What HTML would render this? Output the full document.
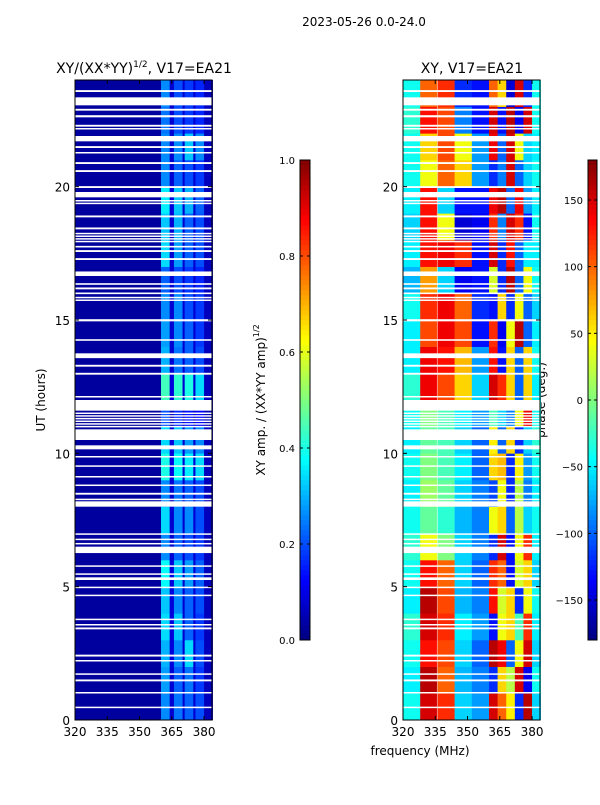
<!DOCTYPE html>
<html><head><meta charset="utf-8"><style>
body{margin:0;background:#fff;}
svg text{font-family:"DejaVu Sans","Liberation Sans",sans-serif;fill:#000;}
</style></head><body>
<svg id="fig" width="600" height="800" xmlns="http://www.w3.org/2000/svg">
<rect width="600" height="800" fill="#fff"/>
<text x="364" y="26" font-size="12" text-anchor="middle">2023-05-26 0.0-24.0</text>
<text x="144" y="73" font-size="14" text-anchor="middle">XY/(XX*YY)<tspan font-size="9" dy="-6">1/2</tspan><tspan dy="6">, V17=EA21</tspan></text>
<text x="472" y="73" font-size="14" text-anchor="middle">XY, V17=EA21</text>
<text x="45" y="400" font-size="12" text-anchor="middle" transform="rotate(-90 45 400)">UT (hours)</text>
<text x="420" y="755" font-size="12" text-anchor="middle">frequency (MHz)</text>
<text x="265" y="400" font-size="12" text-anchor="middle" transform="rotate(-90 265 400)">XY amp. / (XX*YY amp)<tspan font-size="8" dy="-6">1/2</tspan></text>
<text x="545" y="400" font-size="12" text-anchor="middle" transform="rotate(-90 545 400)">phase (deg.)</text>
<g id="left"></g>
<g id="right"></g>
<g id="cbars"></g>
<g id="axes"></g>
</svg>
<script>
const hours = [0,1,2,3,4,5,6,7,8,9,10,11,12,13,14,15,16,17,18,19,20,21,22,23];
const ampFreqEdges = [320,360,364,366,370,371,375,376,380,384];
const ampRows = [
[0.03,0.26,0.08,0.24,0.08,0.22,0.08,0.20,0.06],
[0.03,0.28,0.08,0.22,0.08,0.24,0.08,0.18,0.06],
[0.03,0.30,0.09,0.26,0.08,0.34,0.08,0.20,0.06],
[0.03,0.34,0.09,0.32,0.08,0.22,0.08,0.18,0.06],
[0.03,0.32,0.09,0.26,0.08,0.22,0.08,0.20,0.06],
[0.03,0.38,0.09,0.32,0.08,0.28,0.08,0.22,0.06],
[0.03,0.26,0.08,0.22,0.08,0.20,0.08,0.18,0.06],
[0.03,0.34,0.08,0.26,0.08,0.26,0.08,0.20,0.06],
[0.03,0.26,0.08,0.24,0.08,0.22,0.08,0.20,0.06],
[0.03,0.40,0.09,0.38,0.08,0.36,0.08,0.34,0.06],
[0.03,0.34,0.09,0.32,0.08,0.28,0.08,0.26,0.06],
[0.03,0.20,0.06,0.16,0.06,0.14,0.06,0.12,0.05],
[0.03,0.44,0.09,0.42,0.08,0.40,0.08,0.34,0.06],
[0.03,0.30,0.08,0.24,0.08,0.22,0.08,0.20,0.06],
[0.03,0.28,0.08,0.26,0.08,0.22,0.08,0.18,0.06],
[0.03,0.26,0.08,0.26,0.08,0.20,0.08,0.18,0.06],
[0.03,0.22,0.08,0.20,0.08,0.18,0.08,0.16,0.06],
[0.03,0.34,0.08,0.28,0.08,0.22,0.08,0.20,0.06],
[0.03,0.32,0.08,0.30,0.08,0.22,0.08,0.20,0.06],
[0.03,0.36,0.09,0.32,0.08,0.30,0.08,0.22,0.06],
[0.03,0.26,0.08,0.22,0.08,0.20,0.08,0.18,0.06],
[0.03,0.26,0.08,0.26,0.08,0.32,0.08,0.26,0.06],
[0.03,0.24,0.08,0.20,0.08,0.18,0.08,0.16,0.06],
[0.03,0.26,0.08,0.20,0.08,0.18,0.08,0.16,0.06]
];
const phaseFreqEdges = [320,328,336,344,352,360,364,368,372,376,380,384];
const phaseRows = [
[-40,150,120,-60,-80,150,100,50,-120,160,-60],
[-50,160,100,-70,-90,-120,60,20,150,-140,-40],
[-40,130,110,-60,-100,160,140,-100,40,150,-60],
[-30,150,120,-50,-80,-130,40,60,-20,120,-50],
[-50,160,110,-70,-90,130,30,60,-120,40,-40],
[-40,130,100,-60,-100,120,100,-130,30,60,-60],
[-30,40,0,-60,-90,-120,150,-130,40,120,-50],
[-40,-10,-30,-70,-90,40,60,-100,20,-60,-40],
[-50,10,-10,-60,-90,-110,40,-120,20,-90,-50],
[-40,0,-20,-50,-100,60,70,-120,50,-80,-40],
[-50,-10,-20,-60,-100,50,-100,60,-120,-60,-30],
[-40,0,-20,-50,-80,-20,-60,-90,40,140,-40],
[-30,140,110,60,-60,150,120,60,-100,60,-50],
[-50,140,130,70,-80,130,-130,60,-100,60,-40],
[-50,110,140,110,-130,120,-140,40,160,-100,-50],
[-40,120,140,100,-120,-130,60,-120,40,-100,-60],
[-70,80,-60,-140,-130,30,-120,160,-100,40,-40],
[-50,130,140,120,-130,150,-120,130,-100,-50,-50],
[-60,130,40,-150,-140,120,-90,150,120,-130,-40],
[-50,130,-60,-130,-130,140,160,-100,140,-80,-50],
[-40,40,100,60,-80,-120,-90,150,-100,-60,-40],
[-40,60,110,40,-80,140,-100,150,40,-60,-50],
[-30,130,110,-90,-130,150,-130,160,-140,150,-40],
[-40,100,120,-120,-130,100,60,-150,150,-120,-40]
];
const gaps = [[23.55,23.62],[23.05,23.35],[22.85,22.92],[22.6,22.68],[22.25,22.32],[22.15,22.2],[21.7,21.9],[21.45,21.52],[21.25,21.3],[20.85,20.92],[20.55,20.62],[19.95,20.02],[19.6,19.8],[19.45,19.5],[19.35,19.4],[18.85,18.92],[18.4,18.47],[18.22,18.27],[18.12,18.17],[18.02,18.07],[17.92,17.97],[17.72,17.78],[17.55,17.62],[17.25,17.32],[16.65,16.82],[16.32,16.38],[16.15,16.22],[15.97,16.03],[15.82,15.87],[15.72,15.77],[14.95,15.03],[14.22,14.28],[13.57,13.75],[13.25,13.32],[12.95,13.02],[12.1,12.15],[11.6,12.0],[11.5,11.53],[11.4,11.43],[11.3,11.33],[11.2,11.23],[11.1,11.13],[11.0,11.03],[10.5,10.9],[10.15,10.3],[9.85,9.9],[9.5,9.55],[9.1,9.15],[8.78,8.83],[8.45,8.52],[8.25,8.3],[8.0,8.2],[6.95,7.0],[6.75,6.8],[6.6,6.64],[6.26,6.5],[5.75,5.8],[5.45,5.5],[5.25,5.35],[4.95,5.0],[4.65,4.7],[3.75,3.8],[3.55,3.6],[3.4,3.47],[2.38,2.45],[2.2,2.25],[1.7,1.75],[1.45,1.52],[1.0,1.05],[0.45,0.5]];
const yTicks = [0,5,10,15,20];
const xTicks = [320,335,350,365,380];
const ampTicks = [0.0,0.2,0.4,0.6,0.8,1.0];
const phaseTicks = [-150,-100,-50,0,50,100,150];

const NS = "http://www.w3.org/2000/svg";
function jet(v){v=Math.max(0,Math.min(1,v));
 const r=Math.max(0,Math.min(1,1.5-Math.abs(4*v-3))),g=Math.max(0,Math.min(1,1.5-Math.abs(4*v-2))),b=Math.max(0,Math.min(1,1.5-Math.abs(4*v-1)));
 return `rgb(${Math.round(r*255)},${Math.round(g*255)},${Math.round(b*255)})`;}
function el(tag,attrs,parent){const e=document.createElementNS(NS,tag);for(const k in attrs)e.setAttribute(k,attrs[k]);parent.appendChild(e);return e;}
const Y0=720,Y1=80;
function ys(h){return Y0-(h/24)*(Y0-Y1);}
function xsL(f){return 75+(f-320)*(137/63.7);}
function xsR(f){return 403+(f-320)*(137/63.7);}
const L=document.getElementById('left'),R=document.getElementById('right'),C=document.getElementById('cbars'),A=document.getElementById('axes');

hours.forEach((h,i)=>{
 ampRows[i].forEach((v,c)=>{
  const r=el('rect',{x:xsL(ampFreqEdges[c]),y:ys(h+1),width:xsL(ampFreqEdges[c+1])-xsL(ampFreqEdges[c])+0.3,height:ys(h)-ys(h+1)+0.3,fill:jet(v)},L);
  
  
 });
 phaseRows[i].forEach((v,c)=>{
  const r=el('rect',{x:xsR(phaseFreqEdges[c]),y:ys(h+1),width:xsR(phaseFreqEdges[c+1])-xsR(phaseFreqEdges[c])+0.3,height:ys(h)-ys(h+1)+0.3,fill:jet((v+180)/360)},R);
  
  
 });
});
gaps.forEach(g=>{
 [L,R].forEach((P,k)=>{
  const x=k?403:75;
  const r=el('rect',{x:x,y:ys(g[1]),width:137,height:Math.max(1.5,ys(g[0])-ys(g[1])),fill:'#fff'},P);
  
  
 });
});
el('line',{x1:xsR(336),x2:xsR(336),y1:80,y2:720,stroke:'#fff','stroke-opacity':0.5,'stroke-width':1},R);

[[75,xsL],[403,xsR]].forEach(([x0,xs],k)=>{
 el('rect',{x:x0,y:80,width:137,height:640,fill:'none',stroke:'#000','stroke-width':1},A);
 yTicks.forEach(t=>{
  el('line',{x1:x0,x2:x0+4,y1:ys(t),y2:ys(t),stroke:'#000'},A);
  el('line',{x1:x0+137,x2:x0+133,y1:ys(t),y2:ys(t),stroke:'#000'},A);
  const tx=el('text',{x:x0-5,y:ys(t)+5,'font-size':12,'text-anchor':'end'},A);tx.textContent=t;
  
  
 });
 xTicks.forEach(t=>{
  el('line',{x1:xs(t),x2:xs(t),y1:720,y2:716,stroke:'#000'},A);
  el('line',{x1:xs(t),x2:xs(t),y1:80,y2:84,stroke:'#000'},A);
  const tx=el('text',{x:xs(t),y:736,'font-size':12,'text-anchor':'middle'},A);tx.textContent=t;
  
  
 });
});
function cbar(x,w,ticks,lo,hi,fmt,name){
 for(let i=0;i<96;i++){
  const v=i/96;
  el('rect',{x:x,y:640-(i+1)*5,width:w,height:5.3,fill:jet(v+0.5/96)},C);
 }
 const b=el('rect',{x:x,y:160,width:w,height:480,fill:'none',stroke:'#000'},C);
 
 
 ticks.forEach(t=>{
  const y=640-(t-lo)/(hi-lo)*480;
  el('line',{x1:x,x2:x+3,y1:y,y2:y,stroke:'#000'},C);
  el('line',{x1:x+w,x2:x+w-3,y1:y,y2:y,stroke:'#000'},C);
  const tx=el('text',{x:x-5,y:y+4,'font-size':10,'text-anchor':'end'},C);tx.textContent=fmt(t);
  
  
 });
}
cbar(300,10,ampTicks,0,1,t=>t.toFixed(1),'amp-colorbar');
cbar(588,9,phaseTicks,-180,180,t=>String(t).replace('-','\u2212'),'phase-colorbar');
</script>
</body></html>
